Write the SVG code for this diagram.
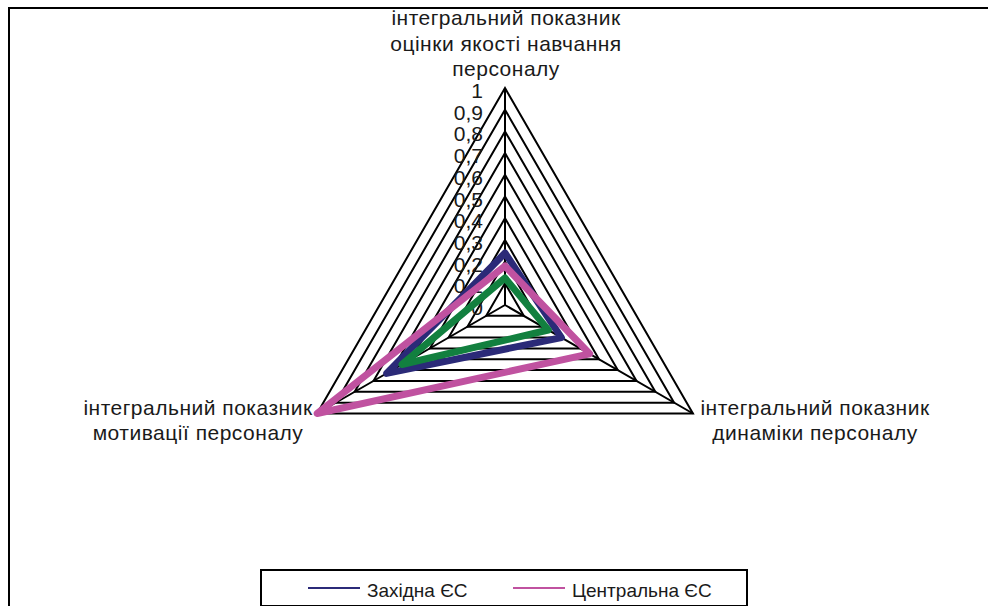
<svg xmlns="http://www.w3.org/2000/svg" width="988" height="606" viewBox="0 0 988 606">
<style>
.t{font-family:"Liberation Sans",Arial,sans-serif;font-size:21px;fill:#1a1a1a}
.a{letter-spacing:0.5px}
.c{text-anchor:middle}
.v{text-anchor:end}
.lg{font-family:"Liberation Sans",Arial,sans-serif;font-size:19px;fill:#1a1a1a}
.grid{fill:none;stroke:#000;stroke-width:2;stroke-linejoin:miter}
.ser{fill:none;stroke-width:7;stroke-linejoin:round;stroke-linecap:round}
</style>
<rect width="988" height="606" fill="#fff"/>
<path d="M9,606 V8 H988" fill="none" stroke="#000" stroke-width="2"/>
<g id="grid">
<polygon class="grid" points="505,283.3 523.79,315.85 486.21,315.85"/>
<polygon class="grid" points="505,261.6 542.58,326.7 467.42,326.7"/>
<polygon class="grid" points="505,239.9 561.38,337.55 448.62,337.55"/>
<polygon class="grid" points="505,218.2 580.17,348.4 429.83,348.4"/>
<polygon class="grid" points="505,196.5 598.96,359.25 411.04,359.25"/>
<polygon class="grid" points="505,174.8 617.75,370.1 392.25,370.1"/>
<polygon class="grid" points="505,153.1 636.55,380.95 373.45,380.95"/>
<polygon class="grid" points="505,131.4 655.34,391.8 354.66,391.8"/>
<polygon class="grid" points="505,109.7 674.13,402.65 335.87,402.65"/>
<polygon class="grid" points="505,88 692.93,413.5 317.07,413.5"/>
<path class="grid" d="M505,305 V88 M505,305 L692.93,413.5 M505,305 L317.07,413.5"/>
</g>
<g id="value-labels">
<text class="t v" x="483" y="315">0</text>
<text class="t v" x="483" y="293.3">0,1</text>
<text class="t v" x="483" y="271.6">0,2</text>
<text class="t v" x="483" y="249.9">0,3</text>
<text class="t v" x="483" y="228.2">0,4</text>
<text class="t v" x="483" y="206.5">0,5</text>
<text class="t v" x="483" y="184.8">0,6</text>
<text class="t v" x="483" y="163.1">0,7</text>
<text class="t v" x="483" y="141.4">0,8</text>
<text class="t v" x="483" y="119.7">0,9</text>
<text class="t v" x="483" y="98">1</text>
</g>
<g id="series">
<polygon id="zakhidna" class="ser" stroke="#2b2a78" points="505,253 561.4,337.6 386.6,373.4"/>
<polygon id="tsentralna" class="ser" stroke="#c052a0" points="505,266 589.6,353.8 317.1,413.5"/>
<polygon id="series3" class="ser" stroke="#12803f" points="505,278 548.3,330 401.9,364.5"/>
</g>
<g id="axis-top">
<text class="t a c" x="506" y="25">інтегральний показник</text>
<text class="t a c" x="506" y="51">оцінки якості навчання</text>
<text class="t a c" x="506" y="76">персоналу</text>
</g>
<g id="axis-left">
<text class="t a c" x="198" y="415">інтегральний показник</text>
<text class="t a c" x="198" y="440">мотивації персоналу</text>
</g>
<g id="axis-right">
<text class="t a c" x="815" y="415">інтегральний показник</text>
<text class="t a c" x="815" y="440">динаміки персоналу</text>
</g>
<g id="legend">
<rect x="261" y="570" width="486" height="36" fill="#fff" stroke="#000" stroke-width="2"/>
<line x1="308" y1="588" x2="360" y2="588" stroke="#2b2a78" stroke-width="2"/>
<text class="lg" x="367" y="597">Західна ЄС</text>
<line x1="513" y1="588" x2="565" y2="588" stroke="#c052a0" stroke-width="2"/>
<text class="lg" x="572" y="597">Центральна ЄС</text>
</g>
</svg>
